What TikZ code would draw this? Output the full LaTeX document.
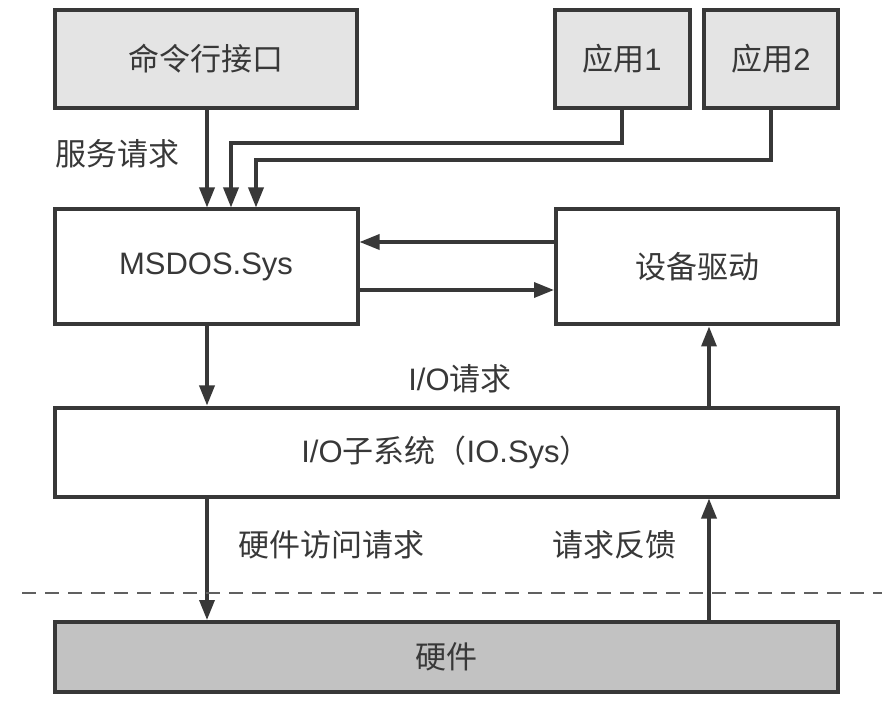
\documentclass[tikz,border=0pt]{standalone}
\usepackage{fontspec}
\setmainfont{Liberation Sans}
\newfontfamily\cjk{Noto Sans CJK SC}
\usetikzlibrary{arrows.meta}
\definecolor{ink}{HTML}{383838}
\definecolor{lightfill}{HTML}{E4E4E4}
\definecolor{darkfill}{HTML}{C2C2C2}
\begin{document}
\begin{tikzpicture}[x=1pt,y=-1pt,
  box/.style={draw=ink,line width=4pt,inner sep=0pt,font=\fontsize{31}{34}\selectfont,text=ink},
  conn/.style={draw=ink,line width=3.4pt,-{Triangle[length=20pt,width=15pt]}},
  lbl/.style={font=\fontsize{31}{34}\selectfont,text=ink,inner sep=0pt}]
\useasboundingbox (0,0) rectangle (892,703);
% boxes
\node[box,fill=lightfill,minimum width=302pt,minimum height=98pt] (cli) at (206,59) {\cjk 命令行接口};
\node[box,fill=lightfill,minimum width=135pt,minimum height=98pt] (app1) at (622,59) {\cjk 应用\rmfamily 1};
\node[box,fill=lightfill,minimum width=134pt,minimum height=98pt] (app2) at (771,59) {\cjk 应用\rmfamily 2};
\node[box,fill=white,minimum width=303pt,minimum height=115pt] (ms) at (206,267) {MSDOS.Sys};
\node[box,fill=white,minimum width=282pt,minimum height=115pt] (dev) at (697,267) {\cjk 设备驱动};
\node[box,fill=white,minimum width=783pt,minimum height=89pt] (io) at (446,452) {I/O{\cjk 子系统（}IO.Sys{\cjk ）}};
\node[box,fill=darkfill,minimum width=783pt,minimum height=70pt] (hw) at (446,657) {\cjk 硬件};
% labels
\node[lbl,anchor=west] (svc) at (55,154) {\cjk 服务请求};
\node[lbl] (ioreq) at (460,379) {I/O{\cjk 请求}};
\node[lbl] (hwreq) at (331,545) {\cjk 硬件访问请求};
\node[lbl] (fb) at (614,545) {\cjk 请求反馈};
% connectors
\coordinate (c1) at (231,143);
\coordinate (c2) at (256,160);
\draw[conn] (cli.south -| 207,0) -- (ms.north -| 207,0);
\draw[conn] (app1.south) |- (c1) -- (c1 |- ms.north);
\draw[conn] (app2.south) |- (c2) -- (c2 |- ms.north);
\draw[conn] (dev.west |- 0,242) -- (ms.east |- 0,242);
\draw[conn] (ms.east |- 0,290) -- (dev.west |- 0,290);
\draw[conn] (ms.south -| 207,0) -- (io.north -| 207,0);
\draw[conn] (io.north -| 709,0) -- (dev.south -| 709,0);
\draw[conn] (io.south -| 207,0) -- (hw.north -| 207,0);
\draw[conn] (hw.north -| 709,0) -- (io.south -| 709,0);
% dashed separator
\coordinate (dl) at (22,593);
\coordinate (dr) at (882,593);
\draw[draw=ink!80,line width=2.6pt,dash pattern=on 14pt off 9pt] (dl) -- (dr);
\end{tikzpicture}
\end{document}
